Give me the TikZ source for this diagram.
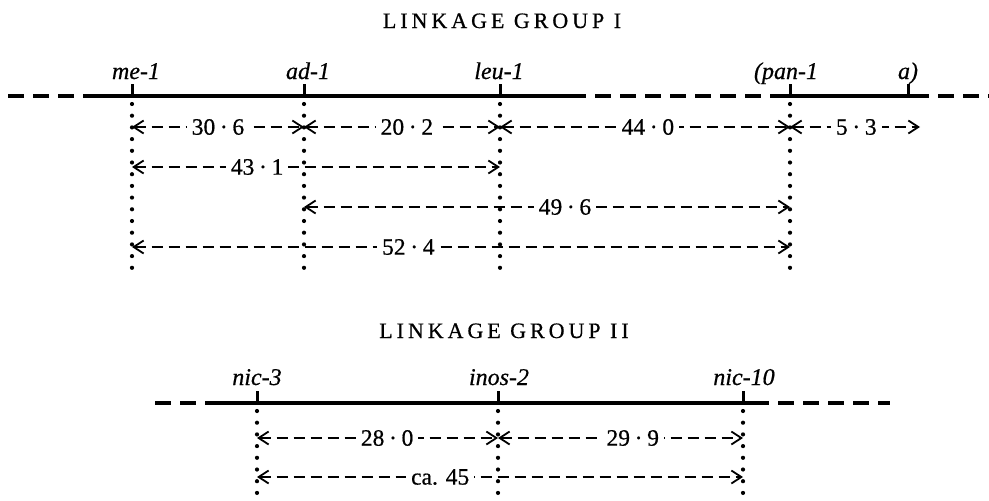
\documentclass[tikz,border=0pt]{standalone}
\usepackage{fontspec}
\setmainfont{Liberation Serif}
\usetikzlibrary{arrows.meta,calc}
\newcommand\mydot{\kern.2em·\kern.2em}
\tikzset{
  base/.style={line width=3.6pt},
  basedash/.style={line width=3.6pt, dash pattern=on 16pt off 9pt},
  tickmark/.style={line width=3pt},
  dots/.style={line width=4.2pt, line cap=round, dash pattern=on 0pt off 11.7pt},
  barb/.tip={Straight Barb[length=10pt,width=13pt,line width=1.8pt]},
  dim/.style={line width=1.8pt, dash pattern=on 11pt off 6pt, barb-barb},
  gene/.style={font=\fontsize{24}{26}\selectfont\itshape\addfontfeature{FakeBold=0.6}, anchor=base, inner sep=0pt},
  num/.style={font=\fontsize{23.5}{26}\selectfont\addfontfeature{FakeBold=0.6}, fill=white, inner xsep=5pt, inner ysep=2pt},
  title/.style={font=\fontsize{22}{24}\selectfont\addfontfeature{LetterSpace=18,FakeBold=0.6}, anchor=base}
}
\begin{document}
\begin{tikzpicture}[x=1pt,y=-1pt]
\useasboundingbox (0,0) rectangle (989,501);

% ---------- Linkage group I ----------
\node[title] (t1) at (502,28) {LINKAGE GROUP I};

\coordinate (me) at (132,96);
\coordinate (ad) at (304,96);
\coordinate (leu) at (500,96);
\coordinate (pan) at (790,96);
\coordinate (a) at (908,96);
\coordinate (aend) at (920,96);

\coordinate (s1) at (8,96);
\coordinate (s2) at (87,96);
\coordinate (s3) at (570,96);
\coordinate (s4) at (770,96);
\coordinate (s5) at (913,96);
\coordinate (s6) at (989,96);

\draw[basedash] (s1) -- (s2);
\draw[base] (s2) -- (s3);
\draw[basedash] (s3) -- (s4);
\draw[base] (s4) -- (s5);
\draw[basedash] (s5) -- (s6);

\foreach \g in {me,ad,leu,pan,a} \draw[tickmark] (\g) -- ++(0,-12);

\node[gene] (lme) at (136,79) {me-1};
\node[gene] (lad) at (308,79) {ad-1};
\node[gene] (lleu) at (499,79) {leu-1};
\node[gene] (lpan) at (786,79) {(pan-1};
\node[gene] (la) at (908,79) {a)};

\coordinate (bot1) at (0,270);
\foreach \g in {me,ad,leu,pan} \draw[dots] ($(\g)+(0,8)$) -- (\g |- bot1);

\coordinate (r1) at (0,127);
\coordinate (r2) at (0,167);
\coordinate (r3) at (0,207);
\coordinate (r4) at (0,247);

\draw[dim] (me |- r1) -- (ad |- r1) node[num, pos=.5] {30\mydot6};
\draw[dim] (ad |- r1) -- (leu |- r1) node[num, pos=.525] {20\mydot2};
\draw[dim] (leu |- r1) -- (pan |- r1) node[num, pos=.51] {44\mydot0};
\draw[dim] (pan |- r1) -- (aend |- r1) node[num, pos=.51] {5\mydot3};
\draw[dim] (me |- r2) -- (leu |- r2) node[num, pos=.34] {43\mydot1};
\draw[dim] (ad |- r3) -- (pan |- r3) node[num, pos=.537] {49\mydot6};
\draw[dim] (me |- r4) -- (pan |- r4) node[num, pos=.42] {52\mydot4};

% ---------- Linkage group II ----------
\node[title] (t2) at (504,338) {LINKAGE GROUP II};

\coordinate (nicA) at (257,403);
\coordinate (inos) at (498,403);
\coordinate (nicB) at (743,403);

\coordinate (u1) at (155,403);
\coordinate (u2) at (213,403);
\coordinate (u3) at (753,403);
\coordinate (u4) at (890,403);

\draw[basedash] (u1) -- (u2);
\draw[base] (u2) -- (u3);
\draw[basedash] (u3) -- (u4);

\foreach \g in {nicA,inos,nicB} \draw[tickmark] (\g) -- ++(0,-12);

\node[gene] (lnicA) at (257,385) {nic-3};
\node[gene] (linos) at (499,385) {inos-2};
\node[gene] (lnicB) at (744,385) {nic-10};

\coordinate (bot2) at (0,496);
\foreach \g in {nicA,inos,nicB} \draw[dots] ($(\g)+(0,8)$) -- (\g |- bot2);

\coordinate (q1) at (0,438);
\coordinate (q2) at (0,477);

\draw[dim] (nicA |- q1) -- (inos |- q1) node[num, pos=.54] {28\mydot0};
\draw[dim] (inos |- q1) -- (nicB |- q1) node[num, pos=.55] {29\mydot9};
\draw[dim] (nicA |- q2) -- (nicB |- q2) node[num, pos=.377] {ca. 45};
\end{tikzpicture}
\end{document}
